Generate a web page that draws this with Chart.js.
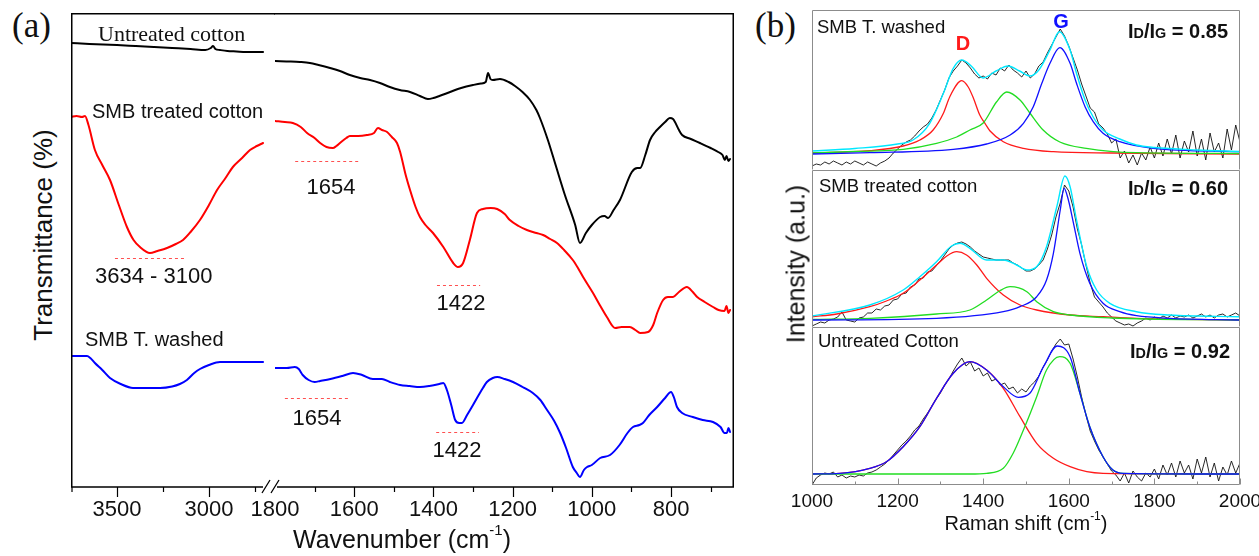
<!DOCTYPE html>
<html><head><meta charset="utf-8">
<script src="https://cdn.jsdelivr.net/npm/chart.js@4.4.0/dist/chart.umd.min.js"></script>
<style>
html,body{margin:0;padding:0;background:#fff;}
#wrap{position:relative;width:1259px;height:556px;overflow:hidden;background:#fff;}
canvas{position:absolute;}
.t{position:absolute;white-space:nowrap;color:#111;}
</style></head><body><div id="wrap">
<canvas id="ftL"></canvas><canvas id="ftR"></canvas>
<canvas id="r1"></canvas><canvas id="r2"></canvas><canvas id="r3"></canvas>
</div>
<script>
// ---------------- FTIR (panel a) : [wavenumber, transmittance a.u.] ----------------
const ftirUntreatedHigh = [[3750,444],[3650,443],[3500,442],[3400,441],[3300,440],[3200,439],[3100,438],[3020,437],[2990,439],[2978,441],[2965,438],[2940,437],[2900,436],[2850,435.5],[2800,435],[2706,435]];
const ftirUntreatedLow = [[1800,426],[1760,425.5],[1737,425],[1712,424],[1690,422],[1661,419],[1636,416],[1611,412],[1585,409],[1560,407],[1535,404],[1510,400],[1485,397],[1459,395],[1434,391],[1414,388],[1400,389],[1385,391],[1358,395],[1330,399],[1300,402],[1280,403.5],[1268,405],[1262,414],[1256,408],[1250,407],[1232,408],[1210,405],[1194,401],[1175,395],[1156,387],[1140,377],[1131,369],[1111,347],[1093,324],[1068,292],[1042,262],[1030,244],[1015,254],[1000,262],[979,270],[968,271],[959,269],[945,277],[929,287],[899,315],[885,319],[878,319],[865,332],[853,347],[840,355],[828,360],[815,365],[803,369],[795,368],[790,365],[780,357],[772,352],[750,348],[727,344],[700,339],[681,335],[670,332],[664,327],[660,331],[655,326],[651,328]];
const ftirTreatedHigh = [[3750,370],[3720,371],[3690,370],[3674,371],[3655,362],[3620,337],[3580,322],[3538,307],[3490,282],[3446,260],[3410,247],[3375,240],[3321,234],[3280,236],[3228,239],[3180,243],[3141,247],[3100,255],[3049,267],[3000,282],[2956,297],[2910,309],[2870,320],[2820,329],[2777,337],[2740,341],[2706,344]];
const ftirTreatedLow = [[1800,366],[1775,365],[1755,364],[1735,360],[1719,354],[1700,349],[1686,344],[1670,340],[1654,339],[1645,341],[1636,344],[1620,349],[1611,351],[1590,351],[1568,352],[1550,354],[1540,359],[1530,357],[1517,355],[1505,350],[1492,344],[1484,335],[1470,312],[1459,297],[1445,280],[1434,270],[1420,262],[1401,254],[1375,240],[1350,224],[1338,220],[1325,224],[1308,247],[1290,274],[1275,278],[1255,279],[1239,278],[1220,273],[1207,267],[1185,261],[1164,257],[1140,254],[1123,252],[1105,248],[1088,244],[1070,237],[1048,227],[1035,219],[1022,210],[997,194],[980,182],[962,170],[941,159],[925,160],[904,160],[890,157],[878,154],[858,155],[845,162],[835,174],[820,187],[808,190],[795,190],[780,195],[760,200],[745,195],[734,190],[715,185],[694,180],[680,177],[665,176],[660,181],[655,174],[651,177]];
const ftirWashedHigh = [[3750,131],[3663,131],[3645,129],[3620,124],[3580,117],[3538,109],[3480,103],[3413,99],[3340,99],[3266,99],[3200,100.5],[3158,103],[3120,107],[3080,114],[3049,118],[3000,122],[2940,125],[2850,125],[2706,125]];
const ftirWashedLow = [[1800,119],[1770,119],[1750,120],[1740,118],[1730,112],[1715,107],[1700,105],[1686,106],[1660,108],[1630,111],[1603,114],[1580,112],[1553,108],[1530,108],[1510,105],[1484,102],[1460,101],[1434,100],[1410,101],[1385,103],[1375,104],[1366,97],[1355,82],[1345,67],[1335,64],[1328,64],[1315,72],[1300,82],[1290,89],[1275,99],[1265,105],[1250,109],[1239,110],[1220,108],[1199,105],[1175,100],[1149,94],[1130,87],[1113,77],[1095,66],[1080,54],[1065,39],[1048,20],[1038,14],[1030,10],[1020,17],[1012,20],[1000,22],[979,29],[954,32],[930,42],[910,54],[896,60],[880,62],[871,64],[855,72],[835,80],[815,89],[800,95],[793,90],[785,80],[772,74],[745,70],[720,67],[694,65],[675,60],[665,54],[659,54],[655,59],[651,55]];
const ftirLeftTickLabels = [3500, 3000];
const ftirLeftMinorTicks = [3750, 3250, 2750];
const ftirRightTickLabels = [1800, 1600, 1400, 1200, 1000, 800];
const ftirRightMajorTicks = [1600, 1400, 1200, 1000, 800];
const ftirRightMinorTicks = [1700, 1500, 1300, 1100, 900, 700];

// ---------------- Raman (panel b) ----------------
const ramanTickLabels = [1000, 1200, 1400, 1600, 1800, 2000];
const ramanMinorTicks = [1100, 1300, 1500, 1700, 1900];
const ramanX = [1000,1010,1020,1030,1040,1050,1060,1070,1080,1090,1100,1110,1120,1130,1140,1150,1160,1170,1180,1190,1200,1210,1220,1230,1240,1250,1260,1270,1280,1290,1300,1310,1320,1330,1340,1350,1360,1370,1380,1390,1400,1410,1420,1430,1440,1450,1460,1470,1480,1490,1500,1510,1520,1530,1540,1550,1560,1570,1580,1590,1600,1610,1620,1630,1640,1650,1660,1670,1680,1690,1700,1710,1720,1730,1740,1750,1760,1770,1780,1790,1800,1810,1820,1830,1840,1850,1860,1870,1880,1890,1900,1910,1920,1930,1940,1950,1960,1970,1980,1990,2000];
// SMB T. washed
const washedRaw = [4,6,5,8,6,9,7,5,8,6, 9,7,5,8,6,4,7,9,12,17, 21,25,28,30,34,39,43,46,52,60, 70,80,92,99,104,110,107,102,96,92, 94,91,97,95,102,99,105,100,97,93, 99,92,96,104,108,117,125,133,141,134, 124,112,100,86,74,62,58,46,42,36, 27,31,12,19,7,15,5,17,10,23, 12,27,14,31,16,35,12,29,18,39, 14,31,10,37,18,27,12,41,20,45, 28];
const washedD = [[1000,17],[1135,19.3],[1213,24],[1252,30],[1283,40],[1307,56.7],[1322,73.3],[1350,89.3],[1365,83],[1377,72],[1392,55],[1405,46],[1416,39],[1447,28.3],[1494,21.7],[1564,18.3],[1700,17],[2000,16]];
const washedMid = [[1000,17],[1100,18.5],[1213,20.7],[1291,26.7],[1338,33],[1369,40],[1400,47],[1431,68],[1455,78],[1486,70],[1509,57],[1540,40],[1579,28],[1641,21.7],[1758,17.3],[2000,16.5]];
const washedG = [[1000,16],[1135,17.3],[1330,20.7],[1408,26],[1463,35],[1494,46.7],[1517,63.3],[1537,86.7],[1556,106.7],[1579,122.3],[1603,106.7],[1618,86.7],[1638,63.3],[1657,48.3],[1680,36.7],[1719,28.3],[1797,21.7],[2000,18.3]];
const washedSum = [[1000,19],[1100,21.5],[1200,26],[1236,30],[1275,46.7],[1307,76.7],[1330,101.7],[1350,110],[1372,104],[1400,92],[1430,99],[1458,104],[1485,99],[1509,94],[1530,100],[1556,120],[1578,138.3],[1603,120],[1618,96.7],[1638,70],[1657,53],[1680,40],[1719,31],[1758,25],[1800,22.5],[1900,20],[2000,18.5]];
// SMB treated cotton
const treatedRaw = [1,3,5,4,7,8,10,15,7,6, 5,9,10,14,14,18,17,21,22,27, 28,33,34,40,42,48,49,55,56,61, 66,72,78,82,84,85,83,80,76,73, 70,69,68,67,67,67,67,64,62,59, 56,56,58,62,67,78,92,110,124,142, 136,120,98,82,62,44,30,25,20,14, 10,6,4,2,3,1,4,6,9,7, 10,8,11,9,12,9,11,10,12,9, 11,13,10,12,9,12,13,10,12,14, 11];
const treatedD = [[1000,10.2],[1058,13],[1135,20.3],[1174,26],[1213,33.7],[1252,47],[1291,62],[1315,71],[1338,75.3],[1361,72],[1385,62],[1408,48.7],[1447,32],[1486,22],[1525,17],[1603,12],[1680,10.3],[1758,8.7],[2000,7]];
const treatedMid = [[1000,7.5],[1135,8.7],[1291,13],[1369,17],[1408,27],[1439,36.3],[1463,40.3],[1502,35.3],[1525,25.3],[1564,15.3],[1603,12],[1700,9],[2000,7]];
const treatedG = [[1000,7],[1291,8.7],[1447,15.3],[1486,20.3],[1525,30.3],[1548,47],[1564,73.7],[1580,117],[1589,138.7],[1599,127],[1611,103.7],[1626,73.7],[1649,43.7],[1680,23.7],[1719,15.3],[1758,11.3],[1836,8.7],[2000,7]];
const treatedSum = [[1000,11],[1135,22],[1213,37],[1252,50.3],[1291,65.3],[1326,81],[1346,83.7],[1369,78.7],[1408,67],[1447,67],[1478,62],[1502,57],[1525,60.3],[1548,80.3],[1572,120.3],[1591,151],[1603,140.3],[1618,107],[1642,60.3],[1665,37],[1696,23.7],[1758,15.3],[1836,12],[2000,10.3]];
// Untreated cotton
const untreatedRaw = [0,7,10,12,11,13,8,10,7,9, 8,10,9,12,13,15,18,21,25,30, 35,40,44,49,55,59,66,72,79,86, 92,100,106,114,121,127,119,123,114,117, 109,112,104,106,100,102,96,98,92,96, 93,99,103,109,118,125,134,141,146,140, 141,126,108,88,70,54,44,35,28,21, 14,10,4,12,2,14,8,4,12,8, 16,6,20,10,22,8,24,12,20,6, 26,12,28,8,22,4,18,10,24,12, 22];
const untreatedD = [[1000,11],[1065,11.7],[1135,16.7],[1174,23.3],[1213,38.3],[1252,58.3],[1291,86.7],[1330,111.7],[1369,123.3],[1408,115],[1447,96.7],[1486,68.3],[1525,41.7],[1564,26.7],[1603,18.3],[1642,13.3],[1680,11.7],[2000,11]];
const untreatedG = [[1000,11],[1369,11],[1408,11.7],[1447,16.7],[1470,31.7],[1494,55],[1525,88.3],[1548,115],[1579,128.3],[1603,121.7],[1626,91.7],[1649,58.3],[1680,28.3],[1703,15],[1727,11.7],[2000,11]];
const untreatedSum = [[1000,11],[1065,11.7],[1135,16.7],[1174,23.3],[1213,38.3],[1252,58.3],[1291,86.7],[1330,111.7],[1369,123.3],[1408,115],[1447,98.3],[1482,87.7],[1509,91.7],[1541,118.3],[1573,139],[1603,128.3],[1626,91.7],[1649,58.3],[1680,28.3],[1703,15],[1727,11.7],[2000,11]];

// ---------------- annotation placement (data coordinates) ----------------
const ftirLeftDash = [{w1:3511, w2:3130, v:229}];
const ftirRightDash = [{w1:1749, w2:1585, v:326},{w1:1391, w2:1282, v:202},{w1:1775, w2:1611, v:89},{w1:1393, w2:1285, v:55}];

// ---------------- helpers ----------------
const wrap = document.getElementById('wrap');
const pairs = (xs, ys) => xs.map((x, i) => [x, ys[i]]);
function ln(data, color, width, smooth, order) {
  return { data, borderColor: color, borderWidth: width, pointRadius: 0, pointHoverRadius: 0,
    fill: false, tension: 0, cubicInterpolationMode: smooth ? 'monotone' : 'default', order: order || 0,
    borderJoinStyle: 'round', borderCapStyle: 'round' };
}
function makeChart(id, box, pad, axisH, xOpts, yMax, datasets, plugin) {
  const c = document.getElementById(id);
  c.width = box.w + pad.l + pad.r; c.height = box.h + axisH;
  c.style.left = (box.x - pad.l) + 'px'; c.style.top = box.y + 'px';
  const xs = Object.assign({ type: 'linear',
    grid: { display: false, drawTicks: false }, border: { display: false },
    afterFit: s => { s.height = axisH; s.paddingLeft = 0; s.paddingRight = 0; } }, xOpts);
  return new Chart(c, {
    type: 'line',
    data: { datasets },
    options: {
      responsive: false, animation: false, events: [],
      layout: { padding: { left: pad.l, right: pad.r, top: 0, bottom: 0 }, autoPadding: false },
      plugins: { legend: { display: false }, tooltip: { enabled: false } },
      scales: { x: xs, y: { type: 'linear', display: false, min: 0, max: yMax } }
    },
    plugins: [plugin]
  });
}
function tickOpts(values, size, padding) {
  return {
    afterBuildTicks: s => { s.ticks = values.map(v => ({ value: v })); },
    ticks: { autoSkip: false, maxRotation: 0, minRotation: 0, padding, color: '#111',
      font: { family: 'Liberation Sans', size }, callback: v => String(v) }
  };
}
function dashes(ctx, x, y, list) {
  ctx.save(); ctx.strokeStyle = '#ff5050'; ctx.lineWidth = 1; ctx.setLineDash([3, 3]);
  ctx.beginPath();
  for (const d of list) {
    const yy = Math.round(y.getPixelForValue(d.v)) + 0.5;
    ctx.moveTo(x.getPixelForValue(d.w1), yy); ctx.lineTo(x.getPixelForValue(d.w2), yy);
  }
  ctx.stroke(); ctx.restore();
}
function txt(html, x, base, size, o) {
  o = o || {};
  const fam = o.family || 'Liberation Sans';
  const d = document.createElement('div');
  d.className = 't';
  d.innerHTML = html;
  d.style.fontFamily = '"' + fam + '"';
  d.style.fontSize = size + 'px';
  d.style.fontWeight = o.weight || 'normal';
  d.style.lineHeight = size + 'px';
  d.style.color = o.color || '#111';
  const k = fam.indexOf('Serif') >= 0 ? 0.8375 : 0.8465;
  d.style.left = x + 'px';
  d.style.top = (base - k * size) + 'px';
  if (o.align === 'center') d.style.transform = 'translateX(-50%)';
  if (o.align === 'right') d.style.transform = 'translateX(-100%)';
  wrap.appendChild(d);
}
function vtxt(html, cx, cy, size) {
  const d = document.createElement('div');
  d.className = 't';
  d.innerHTML = html;
  d.style.fontFamily = '"Liberation Sans"';
  d.style.fontSize = size + 'px';
  d.style.lineHeight = size + 'px';
  d.style.left = cx + 'px'; d.style.top = cy + 'px';
  d.style.transform = 'translate(-50%,-50%) rotate(-90deg)';
  wrap.appendChild(d);
}

// ---------------- FTIR charts ----------------
const ftirLeftPlugin = { id: 'ftL', afterDraw(chart) {
  const { ctx, chartArea: a, scales: { x, y } } = chart;
  ctx.save(); ctx.strokeStyle = '#000'; ctx.lineWidth = 1.5;
  ctx.beginPath();
  ctx.moveTo(a.left + 0.75, a.bottom); ctx.lineTo(a.left + 0.75, a.top + 0.75); ctx.lineTo(a.right, a.top + 0.75);
  ctx.moveTo(a.left, a.bottom); ctx.lineTo(a.right - 12, a.bottom);
  ctx.stroke();
  ctx.lineWidth = 1.2; ctx.beginPath();
  for (const v of ftirLeftTickLabels) { const p = Math.round(x.getPixelForValue(v)) + 0.5; ctx.moveTo(p, a.bottom); ctx.lineTo(p, a.bottom + 10); }
  for (const v of ftirLeftMinorTicks) { const p = Math.max(Math.round(x.getPixelForValue(v)) + 0.5, 1); ctx.moveTo(p, a.bottom); ctx.lineTo(p, a.bottom + 5); }
  ctx.stroke(); ctx.restore();
  dashes(ctx, x, y, ftirLeftDash);
}};
const ftirRightPlugin = { id: 'ftR', afterDraw(chart) {
  const { ctx, chartArea: a, scales: { x, y } } = chart;
  ctx.save(); ctx.strokeStyle = '#000'; ctx.lineWidth = 1.5;
  ctx.beginPath();
  ctx.moveTo(a.left - 1, a.top + 0.75); ctx.lineTo(a.right - 0.75, a.top + 0.75); ctx.lineTo(a.right - 0.75, a.bottom);
  ctx.moveTo(a.left + 2, a.bottom); ctx.lineTo(a.right, a.bottom);
  ctx.stroke();
  ctx.lineWidth = 1.3; ctx.beginPath();
  ctx.moveTo(a.left - 13, a.bottom + 6); ctx.lineTo(a.left - 5, a.bottom - 7);
  ctx.moveTo(a.left - 4, a.bottom + 6); ctx.lineTo(a.left + 4, a.bottom - 7);
  ctx.stroke();
  ctx.lineWidth = 1.2; ctx.beginPath();
  for (const v of ftirRightMajorTicks) { const p = Math.round(x.getPixelForValue(v)) + 0.5; ctx.moveTo(p, a.bottom); ctx.lineTo(p, a.bottom + 10); }
  for (const v of ftirRightMinorTicks) { const p = Math.round(x.getPixelForValue(v)) + 0.5; ctx.moveTo(p, a.bottom); ctx.lineTo(p, a.bottom + 5); }
  ctx.stroke(); ctx.restore();
  dashes(ctx, x, y, ftirRightDash);
}};

makeChart('ftL', { x: 71, y: 13, w: 204, h: 474 }, { l: 0, r: 0 }, 50,
  Object.assign({ min: 2641, max: 3750, reverse: true }, tickOpts(ftirLeftTickLabels, 22, 10)), 474,
  [ln(ftirUntreatedHigh, '#000', 2, true), ln(ftirTreatedHigh, '#ff0000', 2, true), ln(ftirWashedHigh, '#0000ff', 2, true)],
  ftirLeftPlugin);
makeChart('ftR', { x: 275, y: 13, w: 459, h: 474 }, { l: 30, r: 10 }, 50,
  Object.assign({ min: 641, max: 1800, reverse: true }, tickOpts(ftirRightTickLabels, 22, 10)), 474,
  [ln(ftirUntreatedLow, '#000', 2, true), ln(ftirTreatedLow, '#ff0000', 2, true), ln(ftirWashedLow, '#0000ff', 2, true)],
  ftirRightPlugin);

// ---------------- Raman charts ----------------
const RED = '#ff1a1a', GREEN = '#22dd22', BLUE = '#1010ff', CYAN = '#00e8ff';
function ramanPlugin(last) { return { id: 'rf', afterDraw(chart) {
  const { ctx, chartArea: a, scales: { x } } = chart;
  ctx.save(); ctx.strokeStyle = '#8c8c8c'; ctx.lineWidth = 1;
  const L = a.left + 0.5, R = a.right - 0.5, T = a.top + 0.5, B = a.bottom - 0.5;
  ctx.beginPath();
  ctx.moveTo(L, B); ctx.lineTo(L, T); ctx.lineTo(R, T); ctx.lineTo(R, B);
  if (last) {
    ctx.moveTo(L, B); ctx.lineTo(R, B);
    for (const v of ramanTickLabels) { const p = Math.round(x.getPixelForValue(v)) + 0.5; ctx.moveTo(p, B); ctx.lineTo(p, B - 6); }
    for (const v of ramanMinorTicks) { const p = Math.round(x.getPixelForValue(v)) + 0.5; ctx.moveTo(p, B); ctx.lineTo(p, B - 3); }
  }
  ctx.stroke(); ctx.restore();
}}; }
const ramanHidden = { min: 1000, max: 2000, display: false };
makeChart('r1', { x: 812, y: 10, w: 428, h: 160 }, { l: 0, r: 0 }, 0, ramanHidden, 160,
  [ln(washedSum, CYAN, 1.4, true, 0), ln(washedG, BLUE, 1.3, true, 1), ln(washedMid, GREEN, 1.3, true, 2),
   ln(washedD, RED, 1.3, true, 3), ln(pairs(ramanX, washedRaw), '#111', 0.9, false, 4)], ramanPlugin(false));
makeChart('r2', { x: 812, y: 170, w: 428, h: 157 }, { l: 0, r: 0 }, 0, ramanHidden, 157,
  [ln(treatedSum, CYAN, 1.4, true, 0), ln(treatedG, BLUE, 1.3, true, 1), ln(treatedMid, GREEN, 1.3, true, 2),
   ln(treatedD, RED, 1.3, true, 3), ln(pairs(ramanX, treatedRaw), '#111', 0.9, false, 4)], ramanPlugin(false));
makeChart('r3', { x: 812, y: 327, w: 428, h: 158 }, { l: 25, r: 25 }, 35,
  Object.assign({ min: 1000, max: 2000 }, tickOpts(ramanTickLabels, 19, 5)), 158,
  [ln(untreatedSum, BLUE, 1.3, true, 0), ln(untreatedG, GREEN, 1.3, true, 1), ln(untreatedD, RED, 1.3, true, 2),
   ln(pairs(ramanX, untreatedRaw), '#111', 0.9, false, 3)], ramanPlugin(true));

// ---------------- texts ----------------
txt('(a)', 12, 37, 35, { family: 'Liberation Serif' });
txt('(b)', 755, 37, 35, { family: 'Liberation Serif' });
txt('Untreated cotton', 98, 41, 22, { family: 'Liberation Serif' });
txt('SMB treated cotton', 92, 118, 20);
txt('3634 - 3100', 95, 284, 22);
txt('1654', 331, 195, 22, { align: 'center' });
txt('1422', 461, 311, 22, { align: 'center' });
txt('SMB T. washed', 85, 346, 20);
txt('1654', 317, 426, 22, { align: 'center' });
txt('1422', 457, 458, 22, { align: 'center' });
txt('Wavenumber (cm<span style="font-size:0.6em;position:relative;top:-0.85em;line-height:0">-1</span>)', 402, 548, 25, { align: 'center' });
vtxt('Transmittance (%)', 43, 235, 26);
vtxt('Intensity (a.u.)', 796, 264, 25);
txt('Raman shift (cm<span style="font-size:0.6em;position:relative;top:-0.85em;line-height:0">-1</span>)', 1026, 530, 20, { align: 'center' });
txt('SMB T. washed', 817, 34, 18.5);
txt('SMB treated cotton', 819, 193, 18.5);
txt('Untreated Cotton', 818, 348, 18.5);
txt('D', 963, 50, 20, { align: 'center', weight: 'bold', color: '#ff1a1a' });
txt('G', 1061, 28, 20, { align: 'center', weight: 'bold', color: '#1010ff' });
const idig = v => 'I<span style="font-size:0.72em">D</span>/I<span style="font-size:0.72em">G</span> = ' + v;
txt(idig('0.85'), 1228, 38, 20, { align: 'right', weight: 'bold' });
txt(idig('0.60'), 1228, 195, 20, { align: 'right', weight: 'bold' });
txt(idig('0.92'), 1230, 358, 20, { align: 'right', weight: 'bold' });
</script>
</body></html>
